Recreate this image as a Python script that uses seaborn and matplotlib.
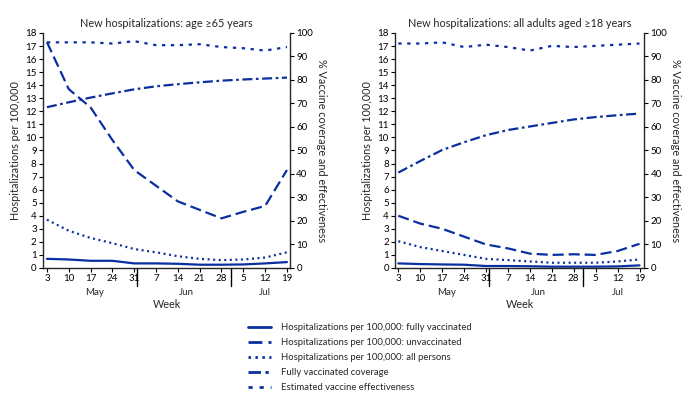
import numpy as np
import matplotlib
matplotlib.use("Agg")
import matplotlib.pyplot as plt
from matplotlib.lines import Line2D
import seaborn as sns

sns.set_style("ticks")
plt.rcParams['font.family'] = ['Lato', 'DejaVu Sans']

week_labels = ["3", "10", "17", "24", "31", "7", "14", "21", "28", "5", "12", "19"]
months = ["May", "Jun", "Jul"]
# month label positions (in week-index units) and month boundaries
month_pos = [2.2, 6.4, 10.0]
month_breaks = [4 + 1 / 7, 8 + 3 / 7]

# age >= 65
old_vacc = [0.7, 0.65, 0.55, 0.55, 0.35, 0.35, 0.32, 0.25, 0.25, 0.27, 0.35, 0.45]
old_unvacc = [17.3, 13.7, 12.3, 9.8, 7.5, 6.3, 5.1, 4.45, 3.8, 4.3, 4.75, 7.5]
old_all = [3.7, 2.85, 2.3, 1.9, 1.45, 1.2, 0.9, 0.7, 0.6, 0.65, 0.8, 1.2]
old_cov = [68.4, 70.5, 72.5, 74.3, 76.0, 77.3, 78.2, 79.0, 79.7, 80.2, 80.6, 81.0]
old_ve = [96.0, 96.0, 96.0, 95.5, 96.5, 94.8, 94.8, 95.2, 94.0, 93.5, 92.5, 94.0]

# all adults >= 18
adult_vacc = [0.35, 0.3, 0.27, 0.25, 0.15, 0.15, 0.13, 0.1, 0.1, 0.1, 0.12, 0.2]
adult_unvacc = [4.0, 3.4, 3.0, 2.4, 1.8, 1.5, 1.1, 1.0, 1.05, 1.0, 1.3, 1.85]
adult_all = [2.05, 1.6, 1.3, 1.0, 0.7, 0.6, 0.5, 0.4, 0.4, 0.4, 0.5, 0.65]
adult_cov = [40.6, 45.5, 50.2, 53.5, 56.5, 58.7, 60.2, 61.7, 63.2, 64.2, 65.0, 65.7]
adult_ve = [95.5, 95.5, 96.0, 94.0, 95.0, 94.0, 92.5, 94.5, 94.0, 94.5, 95.0, 95.5]

color = "#0a2f9f"
lw = 1.6
styles = {
    "vacc": "-",
    "unvacc": (0, (5, 2.2)),
    "all": (0, (0.9, 1.6)),
    "cov": (0, (4.5, 1.6, 1.2, 1.6)),
    "ve": (0, (1.5, 2.5)),
}

x = np.arange(len(week_labels))
fs_tick = 7.0
fs_lab = 7.8

fig = plt.figure(figsize=(6.9, 3.97), dpi=100)
panels = [
    ("New hospitalizations: age \u226565 years", [0.0623, 0.325, 0.358, 0.592],
     (-0.18, 11.14), old_vacc, old_unvacc, old_all, old_cov, old_ve),
    ("New hospitalizations: all adults aged \u226518 years", [0.5725, 0.325, 0.361, 0.592],
     (-0.15, 11.21), adult_vacc, adult_unvacc, adult_all, adult_cov, adult_ve),
]

for title, rect, xlim, vacc, unvacc, allp, cov, ve in panels:
    ax = fig.add_axes(rect)
    ax2 = ax.twinx()
    sns.lineplot(x=x, y=vacc, ax=ax, color=color, lw=lw, linestyle=styles["vacc"])
    sns.lineplot(x=x, y=unvacc, ax=ax, color=color, lw=lw, linestyle=styles["unvacc"])
    sns.lineplot(x=x, y=allp, ax=ax, color=color, lw=lw, linestyle=styles["all"])
    sns.lineplot(x=x, y=cov, ax=ax2, color=color, lw=lw, linestyle=styles["cov"])
    sns.lineplot(x=x, y=ve, ax=ax2, color=color, lw=lw, linestyle=styles["ve"])

    ax.set_xlim(*xlim)
    ax.set_ylim(0, 18)
    ax2.set_ylim(0, 100)
    ax.set_yticks(range(0, 19))
    ax2.set_yticks(range(0, 101, 10))
    ax.set_xticks(x)
    ax.set_xticklabels(week_labels)
    for a in (ax, ax2):
        a.tick_params(labelsize=fs_tick, length=3, width=0.8, pad=1.5, colors="black")
        a.spines["top"].set_visible(False)
        for s in ("left", "right", "bottom"):
            a.spines[s].set_linewidth(1.0)
    ax.spines["right"].set_visible(False)
    ax2.spines["left"].set_visible(False)
    ax2.spines["bottom"].set_visible(False)

    ax.set_title(title, fontsize=fs_lab, pad=4)
    ax.set_ylabel("Hospitalizations per 100,000", fontsize=fs_lab, labelpad=3)
    ax2.set_ylabel("% Vaccine coverage and effectiveness", fontsize=fs_lab,
                   rotation=270, labelpad=10)
    ax.set_xlabel("Week", fontsize=fs_lab, labelpad=11)

    for b in month_breaks:
        ax.plot([b, b], [0, -0.075], transform=ax.get_xaxis_transform(),
                color="black", lw=1.0, clip_on=False)
    for m, p in zip(months, month_pos):
        ax.text(p, -0.085, m, transform=ax.get_xaxis_transform(),
                ha="center", va="top", fontsize=fs_tick)

labels = [
    "Hospitalizations per 100,000: fully vaccinated",
    "Hospitalizations per 100,000: unvaccinated",
    "Hospitalizations per 100,000: all persons",
    "Fully vaccinated coverage",
    "Estimated vaccine effectiveness",
]
handles = [Line2D([], [], color=color, lw=2, linestyle=styles[k])
           for k in ["vacc", "unvacc", "all", "cov", "ve"]]
fig.legend(handles, labels, loc="upper left", bbox_to_anchor=(0.352, 0.198),
           frameon=False, fontsize=6.8, handlelength=2.5, handletextpad=1.0,
           labelspacing=0.64, borderpad=0)

fig.savefig("out.png", dpi=100)
